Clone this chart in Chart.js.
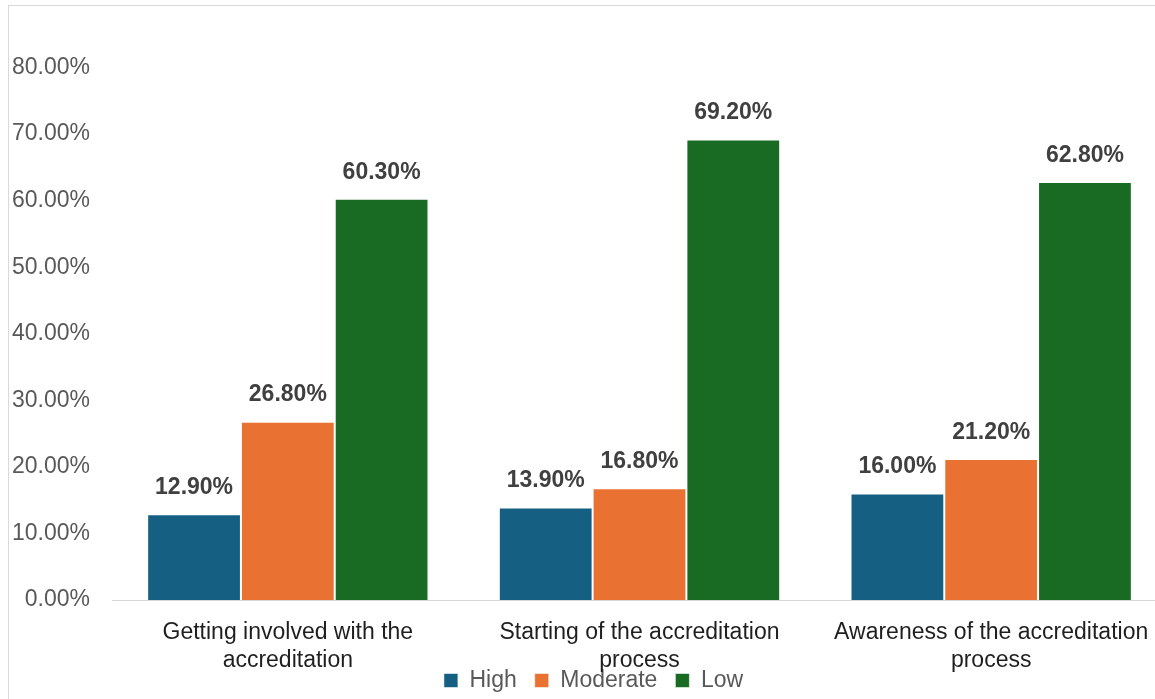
<!DOCTYPE html>
<html>
<head>
<meta charset="utf-8">
<script src="https://cdn.jsdelivr.net/npm/chart.js@4"></script>
<style>
  html, body { margin: 0; padding: 0; background: #fff; overflow: hidden; }
  #wrap { position: relative; width: 1155px; height: 699px; overflow: hidden; }
  #frame { position: absolute; left: 8px; top: 5px; width: 1200px; height: 800px; border: 1px solid #d9d9d9; box-sizing: border-box; }
  #holder { position: absolute; left: 0; top: 0; width: 1180px; height: 699px; }
</style>
</head>
<body>
<div id="wrap">
  <div id="frame"></div>
  <div id="holder"><canvas id="levels"></canvas></div>
</div>
<script>
const categories = [
  ['Getting involved with the', 'accreditation'],
  ['Starting of the accreditation', 'process'],
  ['Awareness of the accreditation', 'process']
];
const highValues = [12.9, 13.9, 16.0];
const moderateValues = [26.8, 16.8, 21.2];
const lowValues = [60.3, 69.2, 62.8];
const yTicks = [0, 10, 20, 30, 40, 50, 60, 70, 80];

const fontFamily = '"Liberation Sans", Arial, sans-serif';

// prints the value above every bar
const barValues = {
  id: 'barValues',
  afterDatasetsDraw(chart) {
    const c = chart.ctx;
    c.save();
    c.font = 'bold 23px ' + fontFamily;
    c.fillStyle = '#404040';
    c.textAlign = 'center';
    c.textBaseline = 'bottom';
    chart.data.datasets.forEach((ds, i) => {
      chart.getDatasetMeta(i).data.forEach((bar, j) => {
        c.fillText(ds.data[j].toFixed(2) + '%', bar.x, bar.y - 15);
      });
    });
    c.restore();
  }
};

// the category labels wrap onto a second line that runs into the legend band,
// and the y labels sit partly in the left padding, so widen both clip regions
const looseLabels = {
  id: 'looseLabels',
  afterLayout(chart) {
    chart.scales.x.bottom = chart.height;
    chart.scales.y.left = 0;
  }
};

const ctx = document.getElementById('levels').getContext('2d');

const levels = new Chart(ctx, {
  type: 'bar',
  data: {
    labels: categories,
    datasets: [
      { label: 'High', data: highValues, backgroundColor: '#156082' },
      { label: 'Moderate', data: moderateValues, backgroundColor: '#E97132' },
      { label: 'Low', data: lowValues, backgroundColor: '#196B24' }
    ]
  },
  options: {
    responsive: true,
    maintainAspectRatio: false,
    animation: false,
    layout: { padding: { top: 1, left: 20, right: 13, bottom: -3 } },
    datasets: {
      bar: {
        categoryPercentage: 0.8,
        barPercentage: 1.0,
        borderWidth: 1,
        borderColor: 'rgba(255,255,255,0.55)'
      }
    },
    scales: {
      x: {
        grid: { display: false, drawTicks: false },
        border: { display: true, color: '#d9d9d9', width: 1 },
        ticks: {
          autoSkip: false,
          maxRotation: 0,
          padding: 19,
          color: '#1f1f1f',
          font: { size: 23, family: fontFamily, lineHeight: 1.22 }
        },
        afterFit: (scale) => { scale.height = 51; }
      },
      y: {
        min: 0,
        max: 90,
        grid: { display: false, drawTicks: false },
        border: { display: false },
        afterBuildTicks: (scale) => {
          scale.ticks = yTicks.concat([90]).map(v => ({ value: v }));
        },
        ticks: {
          padding: 22,
          color: '#595959',
          font: { size: 23, family: fontFamily },
          callback: (v) => v > 80 ? null : v.toFixed(2) + '%'
        },
        afterFit: (scale) => {
          scale.width = 92;
          scale.paddingTop = 0;
          scale.paddingBottom = 0;
        }
      }
    },
    plugins: {
      legend: {
        position: 'bottom',
        labels: {
          color: '#595959',
          boxWidth: 14,
          boxHeight: 14,
          padding: 18,
          font: { size: 23, family: fontFamily }
        }
      },
      tooltip: { enabled: false }
    }
  },
  plugins: [barValues, looseLabels]
});
</script>
</body>
</html>
